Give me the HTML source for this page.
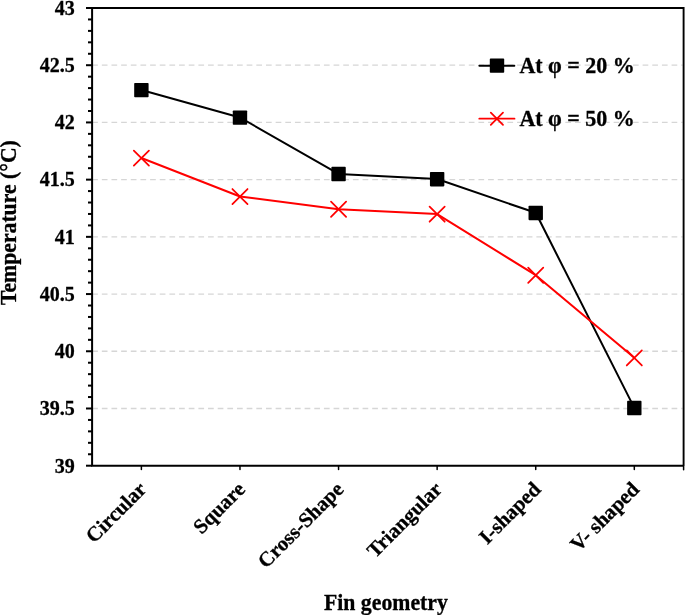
<!DOCTYPE html>
<html><head><meta charset="utf-8"><style>
html,body{margin:0;padding:0;background:#fff;}
body{width:685px;height:615px;overflow:hidden;font-family:"Liberation Serif",serif;}
svg{display:block;will-change:transform;}
</style></head><body>
<svg width="685" height="615" viewBox="0 0 685 615">
<rect width="685" height="615" fill="#fff"/>
<g stroke="#d6d6d6" stroke-width="1.3" stroke-dasharray="5.7 3.957"><line x1="92.16" y1="408.49" x2="682.60" y2="408.49"/><line x1="92.16" y1="351.27" x2="682.60" y2="351.27"/><line x1="92.16" y1="294.06" x2="682.60" y2="294.06"/><line x1="92.16" y1="236.85" x2="682.60" y2="236.85"/><line x1="92.16" y1="179.64" x2="682.60" y2="179.64"/><line x1="92.16" y1="122.43" x2="682.60" y2="122.43"/><line x1="92.16" y1="65.21" x2="682.60" y2="65.21"/></g>
<g stroke="#000" stroke-width="2"><line x1="86" y1="465.70" x2="92.10" y2="465.70"/><line x1="88" y1="454.26" x2="92.10" y2="454.26"/><line x1="88" y1="442.81" x2="92.10" y2="442.81"/><line x1="88" y1="431.37" x2="92.10" y2="431.37"/><line x1="88" y1="419.93" x2="92.10" y2="419.93"/><line x1="86" y1="408.49" x2="92.10" y2="408.49"/><line x1="88" y1="397.04" x2="92.10" y2="397.04"/><line x1="88" y1="385.60" x2="92.10" y2="385.60"/><line x1="88" y1="374.16" x2="92.10" y2="374.16"/><line x1="88" y1="362.72" x2="92.10" y2="362.72"/><line x1="86" y1="351.27" x2="92.10" y2="351.27"/><line x1="88" y1="339.83" x2="92.10" y2="339.83"/><line x1="88" y1="328.39" x2="92.10" y2="328.39"/><line x1="88" y1="316.95" x2="92.10" y2="316.95"/><line x1="88" y1="305.51" x2="92.10" y2="305.51"/><line x1="86" y1="294.06" x2="92.10" y2="294.06"/><line x1="88" y1="282.62" x2="92.10" y2="282.62"/><line x1="88" y1="271.18" x2="92.10" y2="271.18"/><line x1="88" y1="259.74" x2="92.10" y2="259.74"/><line x1="88" y1="248.29" x2="92.10" y2="248.29"/><line x1="86" y1="236.85" x2="92.10" y2="236.85"/><line x1="88" y1="225.41" x2="92.10" y2="225.41"/><line x1="88" y1="213.96" x2="92.10" y2="213.96"/><line x1="88" y1="202.52" x2="92.10" y2="202.52"/><line x1="88" y1="191.08" x2="92.10" y2="191.08"/><line x1="86" y1="179.64" x2="92.10" y2="179.64"/><line x1="88" y1="168.19" x2="92.10" y2="168.19"/><line x1="88" y1="156.75" x2="92.10" y2="156.75"/><line x1="88" y1="145.31" x2="92.10" y2="145.31"/><line x1="88" y1="133.87" x2="92.10" y2="133.87"/><line x1="86" y1="122.43" x2="92.10" y2="122.43"/><line x1="88" y1="110.98" x2="92.10" y2="110.98"/><line x1="88" y1="99.54" x2="92.10" y2="99.54"/><line x1="88" y1="88.10" x2="92.10" y2="88.10"/><line x1="88" y1="76.66" x2="92.10" y2="76.66"/><line x1="86" y1="65.21" x2="92.10" y2="65.21"/><line x1="88" y1="53.77" x2="92.10" y2="53.77"/><line x1="88" y1="42.33" x2="92.10" y2="42.33"/><line x1="88" y1="30.89" x2="92.10" y2="30.89"/><line x1="88" y1="19.44" x2="92.10" y2="19.44"/><line x1="86" y1="8.00" x2="92.10" y2="8.00"/></g>
<g stroke="#000" stroke-width="1.5" stroke-linecap="round"><line x1="141.39" y1="465.70" x2="141.39" y2="469.5"/><line x1="239.97" y1="465.70" x2="239.97" y2="469.5"/><line x1="338.56" y1="465.70" x2="338.56" y2="469.5"/><line x1="437.14" y1="465.70" x2="437.14" y2="469.5"/><line x1="535.73" y1="465.70" x2="535.73" y2="469.5"/><line x1="634.31" y1="465.70" x2="634.31" y2="469.5"/><line x1="683.60" y1="465.70" x2="683.60" y2="469.8"/></g>
<path d="M92.10 8.00 H683.60 V465.70" fill="none" stroke="#000" stroke-width="1.9"/>
<path d="M92.10 7.00 V465.70 H683.60" fill="none" stroke="#000" stroke-width="2"/>
<g font-family="Liberation Serif" font-weight="bold" stroke="#000" stroke-width="0.3" font-size="20" fill="#000"><text x="74.8" y="472.50" text-anchor="end">39</text><text x="74.8" y="415.29" text-anchor="end">39.5</text><text x="74.8" y="358.07" text-anchor="end">40</text><text x="74.8" y="300.86" text-anchor="end">40.5</text><text x="74.8" y="243.65" text-anchor="end">41</text><text x="74.8" y="186.44" text-anchor="end">41.5</text><text x="74.8" y="129.23" text-anchor="end">42</text><text x="74.8" y="72.01" text-anchor="end">42.5</text><text x="74.8" y="14.80" text-anchor="end">43</text></g>
<polyline points="141.39,89.93 239.97,117.50 338.56,173.92 437.14,179.07 535.73,212.82 634.31,407.92" fill="none" stroke="#000" stroke-width="2" stroke-linejoin="round"/>
<polyline points="141.39,158.01 239.97,196.46 338.56,209.16 437.14,214.08 535.73,275.18 634.31,357.80" fill="none" stroke="#f00" stroke-width="2" stroke-linejoin="round"/>
<g stroke="#f00" stroke-width="1.75" stroke-linecap="round"><path d="M133.84 150.56 L148.94 165.66 M133.84 165.66 L148.94 150.56"/><path d="M232.42 189.01 L247.53 204.11 M232.42 204.11 L247.53 189.01"/><path d="M331.01 201.71 L346.11 216.81 M331.01 216.81 L346.11 201.71"/><path d="M429.59 206.63 L444.69 221.73 M429.59 221.73 L444.69 206.63"/><path d="M528.18 267.73 L543.27 282.83 M528.18 282.83 L543.27 267.73"/><path d="M626.76 350.35 L641.86 365.45 M626.76 365.45 L641.86 350.35"/></g>
<g fill="#000"><rect x="134.19" y="82.88" width="14.40" height="14.40" rx="0.8"/><rect x="232.78" y="110.45" width="14.40" height="14.40" rx="0.8"/><rect x="331.36" y="166.87" width="14.40" height="14.40" rx="0.8"/><rect x="429.94" y="172.02" width="14.40" height="14.40" rx="0.8"/><rect x="528.52" y="205.77" width="14.40" height="14.40" rx="0.8"/><rect x="627.11" y="400.87" width="14.40" height="14.40" rx="0.8"/></g>
<line x1="479.3" y1="65.75" x2="514.4" y2="65.75" stroke="#000" stroke-width="1.8" stroke-linecap="round"/>
<rect x="489.8" y="58.6" width="14.4" height="14.2" rx="0.8" fill="#000"/>
<line x1="479.3" y1="118.7" x2="514.5" y2="118.7" stroke="#f00" stroke-width="1.8" stroke-linecap="round"/>
<path d="M490.80 112.60 L503.00 124.80 M490.80 124.80 L503.00 112.60" stroke="#f00" stroke-width="1.75" stroke-linecap="round"/>
<g font-family="Liberation Serif" font-weight="bold" stroke="#000" stroke-width="0.3" font-size="22" fill="#000"><text transform="translate(519.4,73.4) scale(1,1.06)">At φ = 20 %</text><text transform="translate(519.4,126.4) scale(1,1.06)">At φ = 50 %</text></g>
<g font-family="Liberation Serif" font-weight="bold" stroke="#000" stroke-width="0.3" font-size="20.75" fill="#000"><text transform="translate(142.64,485.55) rotate(-45)" text-anchor="end" dominant-baseline="central">Circular</text><text transform="translate(241.22,485.55) rotate(-45)" text-anchor="end" dominant-baseline="central">Square</text><text transform="translate(339.81,485.55) rotate(-45)" text-anchor="end" dominant-baseline="central">Cross-Shape</text><text transform="translate(438.39,485.55) rotate(-45)" text-anchor="end" dominant-baseline="central">Triangular</text><text transform="translate(536.98,485.55) rotate(-45)" text-anchor="end" dominant-baseline="central">I-shaped</text><text transform="translate(635.56,485.55) rotate(-45)" text-anchor="end" dominant-baseline="central">V- shaped</text></g>
<text font-family="Liberation Serif" font-weight="bold" stroke="#000" stroke-width="0.3" font-size="22" transform="translate(15.7,222.6) rotate(-90) scale(0.987,1.03)" text-anchor="middle">Temperature (°C)</text>
<text font-family="Liberation Serif" font-weight="bold" stroke="#000" stroke-width="0.3" font-size="22" transform="translate(385.9,609.6) scale(0.99,1.065)" text-anchor="middle">Fin geometry</text>
</svg>
</body></html>
